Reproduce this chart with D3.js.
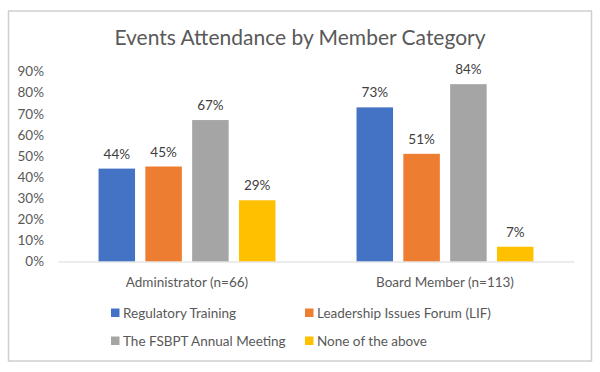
<!DOCTYPE html>
<html>
<head>
<meta charset="utf-8">
<script src="https://cdn.jsdelivr.net/npm/d3@7"></script>
<style>
  body { margin: 0; background: #fff; }
  text { font-family: Lato, "Open Sans", sans-serif; }
</style>
</head>
<body>
<div id="chart"></div>
<script>
// chart data
const categories = ["Administrator (n=66)", "Board Member (n=113)"];
const seriesNames = ["Regulatory Training", "Leadership Issues Forum (LIF)", "The FSBPT Annual Meeting", "None of the above"];
const seriesColors = ["#4472C4", "#ED7D31", "#A5A5A5", "#FFC000"];
const values = [
    [0.44, 0.45, 0.67, 0.29],   // Administrator
    [0.73, 0.51, 0.84, 0.07]    // Board Member
];
const yTicks = [0, 0.1, 0.2, 0.3, 0.4, 0.5, 0.6, 0.7, 0.8, 0.9];

const width = 600, height = 372;
const margin = {top: 72, right: 26, bottom: 110, left: 58};

const svg = d3.select("#chart").append("svg")
    .attr("width", width)
    .attr("height", height);

// outer frame
svg.append("rect")
    .attr("x", 8.5).attr("y", 11)
    .attr("width", 583).attr("height", 350)
    .attr("fill", "#fff")
    .attr("stroke", "#cfcfcf")
    .attr("stroke-width", 1.5);

// title
svg.append("text")
    .attr("x", 300)
    .attr("y", 45)
    .attr("text-anchor", "middle")
    .style("font-size", "21px")
    .style("fill", "#595959")
    .text("Events Attendance by Member Category");

// scales
const x0 = d3.scaleBand()
    .domain(categories)
    .range([margin.left, width - margin.right]);

const x1 = d3.scaleBand()
    .domain(seriesNames)
    .range([0, x0.bandwidth()])
    .paddingInner(0.22)
    .paddingOuter(0.866);

const y = d3.scaleLinear()
    .domain([0, 0.9])
    .range([261.5, 71.5]);

// y axis labels (no line, no ticks)
const yAxis = d3.axisLeft(y)
    .tickValues(yTicks)
    .tickFormat(d3.format(".0%"))
    .tickSize(0)
    .tickPadding(0);

const gy = svg.append("g")
    .attr("transform", "translate(44,0)")
    .call(yAxis);
gy.select(".domain").remove();
gy.selectAll("text")
    .style("font-size", "13.5px")
    .style("fill", "#595959")
    .style("font-family", "Lato, 'Open Sans', sans-serif");

// bars
const groups = svg.append("g")
    .selectAll("g")
    .data(categories)
    .enter()
    .append("g")
    .attr("transform", d => "translate(" + x0(d) + ",0)");

groups.selectAll("rect")
    .data((d, i) => values[i].map((v, j) => ({name: seriesNames[j], value: v, color: seriesColors[j]})))
    .enter()
    .append("rect")
    .attr("x", d => x1(d.name))
    .attr("y", d => y(d.value))
    .attr("width", x1.bandwidth())
    .attr("height", d => y(0) - y(d.value))
    .attr("fill", d => d.color);

// data labels
groups.selectAll("text")
    .data((d, i) => values[i].map((v, j) => ({name: seriesNames[j], value: v})))
    .enter()
    .append("text")
    .attr("x", d => x1(d.name) + x1.bandwidth() / 2)
    .attr("y", d => y(d.value) - 10)
    .attr("text-anchor", "middle")
    .style("font-size", "13.5px")
    .style("fill", "#404040")
    .text(d => d3.format(".0%")(d.value));

// x axis baseline + category labels
const xAxis = d3.axisBottom(x0).tickSize(0).tickPadding(0);
const gx = svg.append("g")
    .attr("transform", "translate(0," + y(0) + ")")
    .call(xAxis);
gx.select(".domain").attr("stroke", "#d9d9d9").attr("stroke-width", 1);
gx.selectAll("text")
    .attr("y", 25)
    .attr("dy", 0)
    .style("font-size", "13.5px")
    .style("fill", "#595959")
    .style("font-family", "Lato, 'Open Sans', sans-serif");

// legend
const legendX = [111, 305];
const legendY = [313, 341];
const legend = svg.append("g")
    .selectAll("g")
    .data(seriesNames)
    .enter()
    .append("g")
    .attr("transform", (d, i) => "translate(" + legendX[i % 2] + "," + legendY[Math.floor(i / 2)] + ")");

legend.append("rect")
    .attr("x", 0).attr("y", -4.5)
    .attr("width", 8.5).attr("height", 8.5)
    .attr("fill", (d, i) => seriesColors[i]);

legend.append("text")
    .attr("x", 12)
    .attr("y", 5)
    .style("font-size", "13.5px")
    .style("fill", "#595959")
    .text(d => d);
</script>
</body>
</html>
